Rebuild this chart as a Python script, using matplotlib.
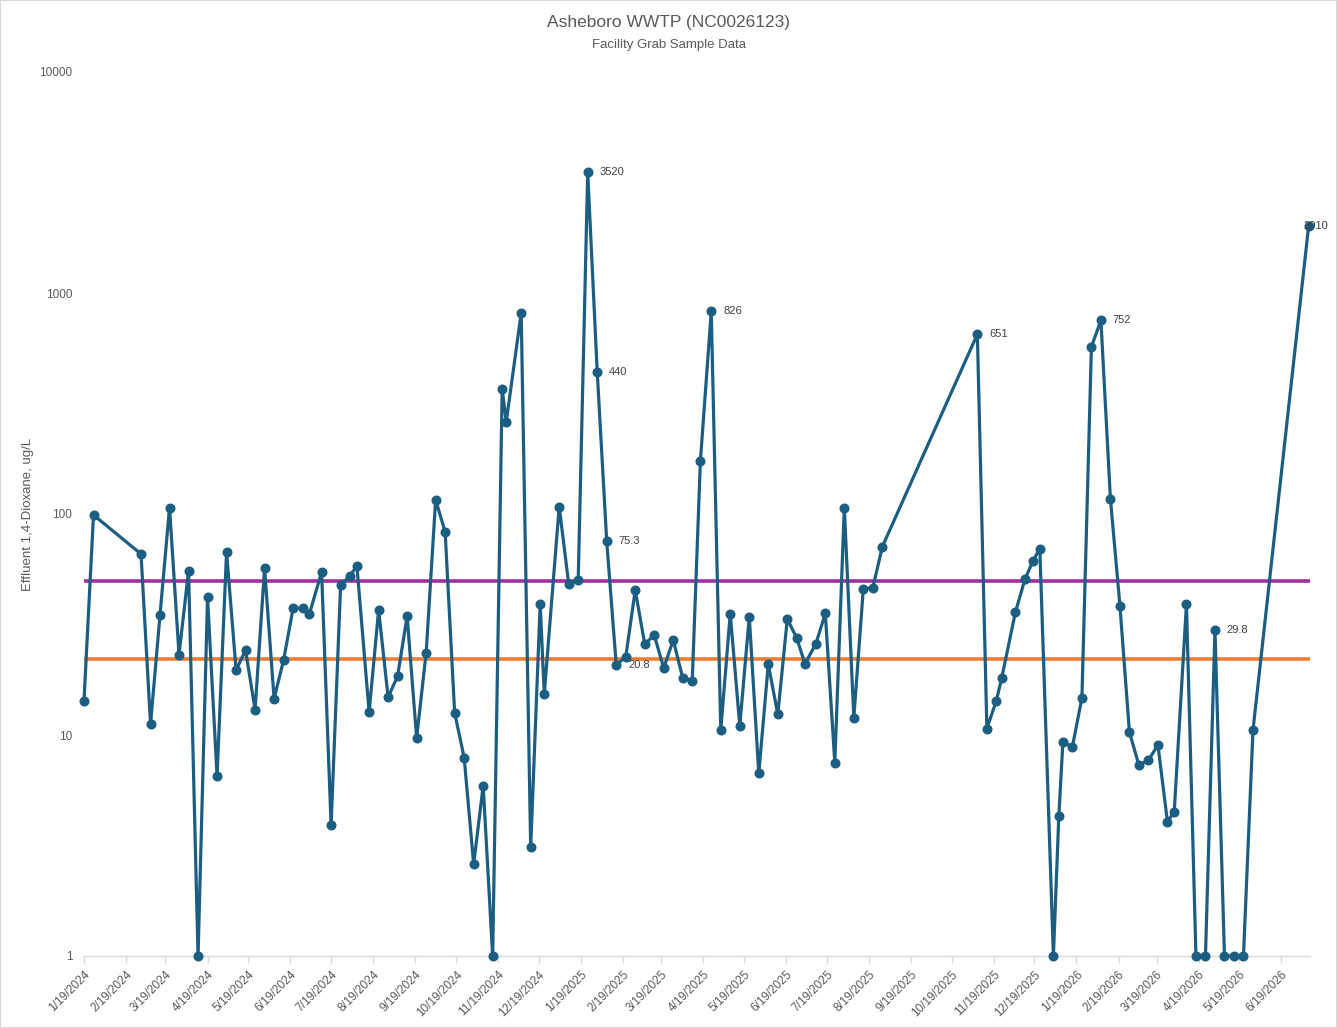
import matplotlib
matplotlib.use("Agg")
from matplotlib import pyplot as plt
from matplotlib.patches import Rectangle
import pandas as pd

plt.rcParams['font.family'] = ['Liberation Sans', 'DejaVu Sans']

# sample dates and effluent 1,4-dioxane results (ug/L)
sample_dates = [
    "2024-01-19", "2024-01-26", "2024-03-01", "2024-03-08", "2024-03-15", "2024-03-22",
    "2024-03-29", "2024-04-05", "2024-04-12", "2024-04-19", "2024-04-26", "2024-05-03",
    "2024-05-10", "2024-05-17", "2024-05-24", "2024-05-31", "2024-06-07", "2024-06-14",
    "2024-06-21", "2024-06-28", "2024-07-03", "2024-07-12", "2024-07-19", "2024-07-26",
    "2024-08-02", "2024-08-07", "2024-08-16", "2024-08-23", "2024-08-30", "2024-09-06",
    "2024-09-13", "2024-09-20", "2024-09-27", "2024-10-04", "2024-10-11", "2024-10-18",
    "2024-10-25", "2024-11-01", "2024-11-08", "2024-11-15", "2024-11-22", "2024-11-25",
    "2024-12-06", "2024-12-13", "2024-12-20", "2024-12-23", "2025-01-03", "2025-01-10",
    "2025-01-17", "2025-01-24", "2025-01-31", "2025-02-07", "2025-02-14", "2025-02-21",
    "2025-02-28", "2025-03-07", "2025-03-14", "2025-03-21", "2025-03-28", "2025-04-04",
    "2025-04-11", "2025-04-17", "2025-04-25", "2025-05-02", "2025-05-09", "2025-05-16",
    "2025-05-23", "2025-05-30", "2025-06-06", "2025-06-13", "2025-06-20", "2025-06-27",
    "2025-07-03", "2025-07-11", "2025-07-18", "2025-07-25", "2025-08-01", "2025-08-08",
    "2025-08-15", "2025-08-22", "2025-08-29", "2025-11-07", "2025-11-14", "2025-11-21",
    "2025-11-25", "2025-12-05", "2025-12-12", "2025-12-18", "2025-12-23", "2026-01-02",
    "2026-01-06", "2026-01-09", "2026-01-16", "2026-01-23", "2026-01-30", "2026-02-06",
    "2026-02-13", "2026-02-20", "2026-02-27", "2026-03-06", "2026-03-13", "2026-03-20",
    "2026-03-27", "2026-04-01", "2026-04-10", "2026-04-17", "2026-04-24", "2026-05-01",
    "2026-05-08", "2026-05-15", "2026-05-22", "2026-05-29", "2026-07-09",
]
dioxane = [
    14.3, 99, 65.9, 11.2, 35.0, 107,
    23.1, 55.4, 1, 42.0, 6.5, 67.3,
    19.7, 24.2, 13.0, 56.8, 14.6, 21.8,
    37.4, 37.5, 35.3, 54.5, 3.9, 47.6,
    52.6, 58.3, 12.7, 36.8, 14.8, 18.5,
    34.5, 9.7, 23.5, 116, 82.9, 12.6,
    7.9, 2.6, 5.9, 1, 368, 261,
    812, 3.1, 39.2, 15.3, 108, 48.2,
    50.3, 3520, 440, 75.3, 20.8, 22.5,
    45.3, 25.8, 28.3, 20.1, 26.9, 18.1,
    17.6, 174, 826, 10.5, 35.4, 11.0,
    34.3, 6.7, 20.9, 12.4, 33.5, 27.4,
    21.0, 25.8, 35.5, 7.5, 107, 12.0,
    45.8, 46.4, 71.1, 651, 10.7, 14.3,
    18.2, 35.9, 50.6, 61.5, 69.7, 1,
    4.3, 9.3, 8.85, 14.7, 571, 752,
    117, 38.5, 10.3, 7.3, 7.7, 9.0,
    4.05, 4.5, 39.0, 1, 1, 29.8,
    1, 1, 1, 10.5, 2010,
]
labeled_dates = ["2025-01-24", "2025-01-31", "2025-02-07", "2025-02-14", "2025-04-25",
                 "2025-11-07", "2026-02-06", "2026-05-01", "2026-07-09"]

upper_limit = 50
lower_limit = 22

df = pd.DataFrame({"date": pd.to_datetime(sample_dates), "value": dioxane})

line_color = "#1B5E82"
text_gray = "#595959"

fig = plt.figure(figsize=(13.37, 10.28), dpi=100)
ax = fig.add_axes([84 / 1337, 72 / 1028, (1310 - 84) / 1337, (956 - 72) / 1028])

ax.axhline(upper_limit, color="#A0309F", lw=2.6, zorder=2)
ax.axhline(lower_limit, color="#EE7D31", lw=2.6, zorder=2)
ax.plot(df["date"], df["value"], color=line_color, lw=2.3, marker="o", ms=6.2,
        zorder=3, clip_on=False)

for d in labeled_dates:
    row = df[df["date"] == pd.Timestamp(d)].iloc[0]
    v = row["value"]
    dx = 8.5 if d != "2026-07-09" else -3.5
    ax.annotate(f"{v:g}", (row["date"], v), xytext=(dx, 0), textcoords="offset points",
                ha="left", va="center", fontsize=8, color="#404040", zorder=4,
                annotation_clip=False)

ax.set_yscale("log")
ax.set_ylim(1, 10000)
ax.set_yticks([1, 10, 100, 1000, 10000])
ax.set_yticklabels(["1", "10", "100", "1000", "10000"])
ax.yaxis.set_minor_locator(matplotlib.ticker.NullLocator())
ax.set_xlim(pd.Timestamp("2024-01-19"), pd.Timestamp("2026-07-10"))

# monthly ticks on the 19th
ticks = pd.date_range("2024-01-01", "2026-06-01", freq="MS") + pd.Timedelta(days=18)
ax.set_xticks(ticks)
ax.set_xticklabels([f"{t.month}/{t.day}/{t.year}" for t in ticks], rotation=45,
                   ha="right", rotation_mode="anchor")

for s in ["top", "right", "left"]:
    ax.spines[s].set_visible(False)
ax.spines["bottom"].set_color("#D9D9D9")
ax.spines["bottom"].set_linewidth(1)
ax.tick_params(axis="x", colors="#D9D9D9", labelcolor=text_gray, labelsize=8.5,
               length=5, width=1, pad=4)
ax.tick_params(axis="y", length=0, labelcolor=text_gray, labelsize=8.5, pad=8.5)

ax.set_ylabel("Effluent 1,4-Dioxane, ug/L", fontsize=9.5, color=text_gray, labelpad=4)

fig.text(0.5, 1 - 23 / 1028, "Asheboro WWTP (NC0026123)", ha="center", va="center",
         fontsize=12.5, color=text_gray)
fig.text(0.5, 1 - 45 / 1028, "Facility Grab Sample Data", ha="center", va="center",
         fontsize=9.5, color=text_gray)

fig.patches.append(Rectangle((0, 0), 1, 1, transform=fig.transFigure, fill=False,
                             edgecolor="#D9D9D9", lw=1.5))

fig.savefig("out.png", dpi=100)
